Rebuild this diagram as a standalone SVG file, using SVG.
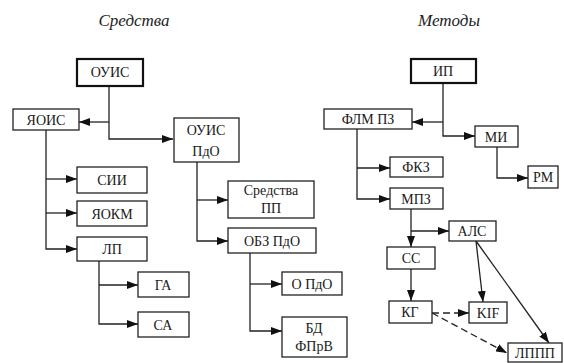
<svg xmlns="http://www.w3.org/2000/svg" width="564" height="363" viewBox="0 0 564 363">
<style>
.box{fill:#fff;stroke:#222;stroke-width:1.3}
.top{fill:#fff;stroke:#111;stroke-width:2.2}
text{font-family:'Liberation Serif','DejaVu Serif',serif}
.t{font-size:14px;fill:#1a1a1a;text-anchor:middle}
.title{font-size:17px;font-style:italic;fill:#222;text-anchor:middle}
.c{fill:none;stroke:#222;stroke-width:1.3}
.d{fill:none;stroke:#222;stroke-width:1.3;stroke-dasharray:7,4}
</style>
<defs>
<marker id="a" markerUnits="userSpaceOnUse" markerWidth="11" markerHeight="8" refX="11" refY="4" orient="auto">
<path d="M0,0 L11,4 L0,8 z" fill="#111"/>
</marker>
</defs>
<text class="title" x="134" y="26">Средства</text>
<text class="title" x="449" y="26">Методы</text>
<g id="connectors">
<path class="c" d="M109,86 V139 H173" marker-end="url(#a)"/>
<path class="c" d="M109,122 H79" marker-end="url(#a)"/>
<path class="c" d="M46,130 V249 H77" marker-end="url(#a)"/>
<path class="c" d="M46,179 H77" marker-end="url(#a)"/>
<path class="c" d="M46,213 H77" marker-end="url(#a)"/>
<path class="c" d="M99,261 V324 H138" marker-end="url(#a)"/>
<path class="c" d="M99,285 H138" marker-end="url(#a)"/>
<path class="c" d="M197,162 V241 H228" marker-end="url(#a)"/>
<path class="c" d="M197,200 H228" marker-end="url(#a)"/>
<path class="c" d="M250,253 V331 H282" marker-end="url(#a)"/>
<path class="c" d="M250,284 H282" marker-end="url(#a)"/>
<path class="c" d="M443,83 V136 H475" marker-end="url(#a)"/>
<path class="c" d="M443,122 H412" marker-end="url(#a)"/>
<path class="c" d="M497,147 V178 H528" marker-end="url(#a)"/>
<path class="c" d="M357,129 V199 H390" marker-end="url(#a)"/>
<path class="c" d="M357,168 H390" marker-end="url(#a)"/>
<path class="c" d="M411,209 V247" marker-end="url(#a)"/>
<path class="c" d="M411,231 H449" marker-end="url(#a)"/>
<path class="c" d="M411,269 V301" marker-end="url(#a)"/>
<path class="d" d="M432,313 H469" marker-end="url(#a)"/>
<path class="d" d="M432,313 L507,353" marker-end="url(#a)"/>
<path class="c" d="M476,241 L483,302" marker-end="url(#a)"/>
<path class="c" d="M476,241 L549,343" marker-end="url(#a)"/>
</g>
<g id="ouis"><rect class="top" x="77" y="59" width="66" height="27"/><text class="t" x="110" y="77">ОУИС</text></g>
<g id="yaois"><rect class="box" x="13" y="109" width="66" height="21"/><text class="t" x="46" y="124.5">ЯОИС</text></g>
<g id="ouis-pdo"><rect class="box" x="174" y="118" width="65" height="44"/><text class="t" x="206" y="135">ОУИС</text><text class="t" x="206" y="156">ПдО</text></g>
<g id="sii"><rect class="box" x="77" y="167" width="70" height="26"/><text class="t" x="112" y="185">СИИ</text></g>
<g id="yaokm"><rect class="box" x="77" y="201" width="70" height="25"/><text class="t" x="112" y="218.5">ЯОКМ</text></g>
<g id="lp"><rect class="box" x="77" y="237" width="70" height="24"/><text class="t" x="112" y="254">ЛП</text></g>
<g id="ga"><rect class="box" x="138" y="272" width="51" height="25"/><text class="t" x="163" y="289.5">ГА</text></g>
<g id="sa"><rect class="box" x="138" y="312" width="51" height="25"/><text class="t" x="163" y="329.5">СА</text></g>
<g id="sredstva-pp"><rect class="box" x="228" y="181" width="86" height="37"/><text class="t" x="271" y="195">Средства</text><text class="t" x="271" y="213">ПП</text></g>
<g id="obz-pdo"><rect class="box" x="228" y="228" width="88" height="25"/><text class="t" x="272" y="245.5">ОБЗ ПдО</text></g>
<g id="o-pdo"><rect class="box" x="282" y="272" width="60" height="23"/><text class="t" x="312" y="288.5">О ПдО</text></g>
<g id="bd-fprv"><rect class="box" x="282" y="317" width="65" height="40"/><text class="t" x="314" y="333">БД</text><text class="t" x="314" y="351">ФПрВ</text></g>
<g id="ip"><rect class="top" x="411" y="59" width="65" height="24"/><text class="t" x="443" y="76">ИП</text></g>
<g id="flm-pz"><rect class="box" x="324" y="109" width="88" height="20"/><text class="t" x="368" y="124">ФЛМ ПЗ</text></g>
<g id="mi"><rect class="box" x="475" y="126" width="43" height="21"/><text class="t" x="496" y="141.5">МИ</text></g>
<g id="rm"><rect class="box" x="528" y="166" width="30" height="22"/><text class="t" x="543" y="182">РМ</text></g>
<g id="fkz"><rect class="box" x="390" y="157" width="53" height="20"/><text class="t" x="416" y="172">ФКЗ</text></g>
<g id="mpz"><rect class="box" x="390" y="188" width="53" height="21"/><text class="t" x="416" y="203.5">МПЗ</text></g>
<g id="als"><rect class="box" x="449" y="221" width="47" height="20"/><text class="t" x="472" y="236">АЛС</text></g>
<g id="ss"><rect class="box" x="387" y="247" width="48" height="22"/><text class="t" x="411" y="263">СС</text></g>
<g id="kg"><rect class="box" x="389" y="301" width="43" height="22"/><text class="t" x="410" y="317">КГ</text></g>
<g id="kif"><rect class="box" x="469" y="302" width="38" height="21"/><text class="t" x="488" y="317.5">KIF</text></g>
<g id="lppp"><rect class="box" x="508" y="343" width="54" height="19"/><text class="t" x="535" y="357.5">ЛППП</text></g>
</svg>
